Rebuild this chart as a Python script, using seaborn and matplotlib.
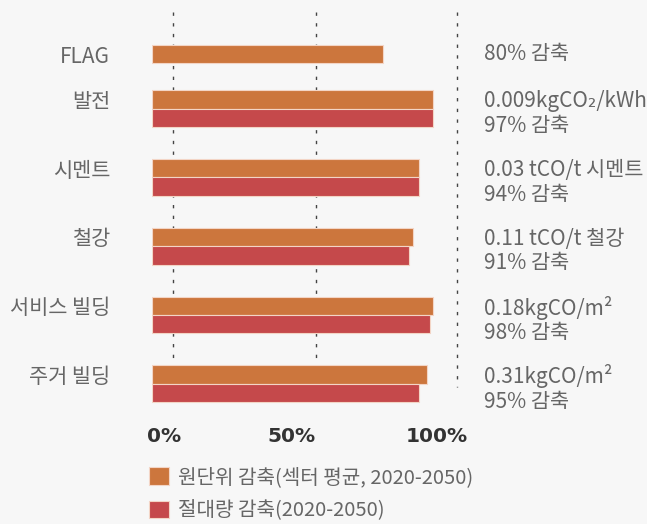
import pandas as pd
import seaborn as sns
import matplotlib.pyplot as plt
from matplotlib.transforms import blended_transform_factory

# sectors and reduction values (% of 2020 level)
sectors = ['FLAG', '발전', '시멘트', '철강', '서비스 빌딩', '주거 빌딩']
intensity_cut = [80, 97, 92.3, 90.2, 97.0, 95.0]
absolute_cut = [None, 97, 92.3, 88.9, 96.1, 92.4]
series_names = ['원단위 감축(섹터 평균, 2020-2050)', '절대량 감축(2020-2050)']
right_notes = [
    '80% 감축',
    '0.009kgCO₂/kWh\n97% 감축',
    '0.03 tCO/t 시멘트\n94% 감축',
    '0.11 tCO/t 철강\n91% 감축',
    '0.18kgCO/m²\n98% 감축',
    '0.31kgCO/m²\n95% 감축',
]
tick_labels = ['0%', '50%', '100%']

# layout (row centres on the native y scale, FLAG sits closer to the top)
row_pos = [0.34, 1, 2, 3, 4, 5]
bar_half = 0.134
tick_pos = [4.2, 48.3, 98.5]
grid_pos = [7.45, 56.7, 105.3]

colors = ['#CC763D', '#C5494B']
bg = '#F7F7F7'

sns.set_style('white', {'axes.facecolor': bg, 'figure.facecolor': bg})
plt.rcParams['font.family'] = ['Noto Sans CJK KR', 'DejaVu Sans']

df = pd.DataFrame({'pos': row_pos, series_names[0]: intensity_cut, series_names[1]: absolute_cut})
long = df.melt(id_vars='pos', var_name='series', value_name='value').dropna()

fig = plt.figure(figsize=(6.47, 5.24), dpi=100)
ax = fig.add_axes([0.2345, 0.2271, 0.4925, 0.75])

sns.barplot(data=long, x='value', y='pos', hue='series', hue_order=series_names,
            palette=colors, saturation=1, orient='h', native_scale=True, width=0.811,
            edgecolor='#F3D5C6', linewidth=0.8, ax=ax, zorder=2)

ax.vlines(grid_pos, -0.41, 5.048, colors='#444444', linewidth=1.0,
          linestyles=(0, (2.4, 5.3)), zorder=1)

ax.set_xlim(0, 110)
ax.set_ylim(5.31, -0.4065)
sns.despine(ax=ax, left=True, bottom=True)

ax.set_xticks(tick_pos, labels=tick_labels)
ax.set_yticks([p - bar_half for p in row_pos], labels=sectors)
ax.tick_params(axis='both', length=0)
ax.tick_params(axis='x', pad=16)
ax.tick_params(axis='y', pad=30)
for t in ax.get_xticklabels():
    t.set_fontfamily('DejaVu Sans')
    t.set_fontweight('bold')
    t.set_fontsize(14.5)
    t.set_color('#333333')
for t in ax.get_yticklabels():
    t.set_fontsize(15)
    t.set_color('#666666')
ax.set_xlabel('')
ax.set_ylabel('')

trans = blended_transform_factory(fig.transFigure, ax.transData)
for i, note in enumerate(right_notes):
    y = row_pos[i] - bar_half if '\n' not in note else row_pos[i] + 0.073
    ax.text(0.748, y, note, transform=trans, ha='left', va='center',
            fontsize=15, color='#666666', linespacing=1.15, clip_on=False)

handles, labels = ax.get_legend_handles_labels()
ax.legend(handles, labels, loc='upper left', bbox_to_anchor=(149 / 647, 0.109),
          bbox_transform=fig.transFigure, frameon=False, borderpad=0, borderaxespad=0,
          handlelength=1.0, handleheight=0.95, handletextpad=0.45, labelspacing=0.62,
          prop={'size': 14.5}, labelcolor='#666666')

fig.savefig('out.png', dpi=100, facecolor=bg)
